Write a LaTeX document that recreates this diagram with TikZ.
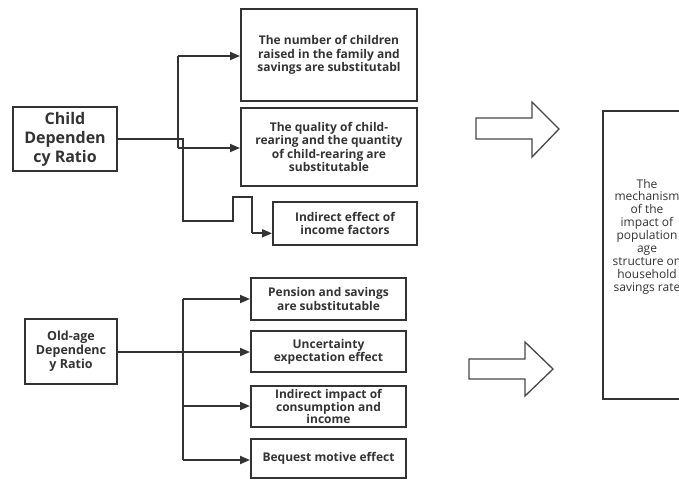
\documentclass[tikz,border=0pt]{standalone}
\usepackage{fontspec}
\setmainfont{Open Sans}
\usetikzlibrary{arrows.meta}
\definecolor{ink}{HTML}{333333}
\begin{document}
\begin{tikzpicture}[x=1pt,y=-1pt,
  box/.style={draw=ink,line width=2pt,inner sep=0pt,align=center,text=ink,font=\bfseries\fontsize{12}{13.2}\selectfont},
  conn/.style={draw=ink,line width=1.8pt,-{Triangle[length=10pt,width=8pt]}},
  plain/.style={draw=ink,line width=1.8pt},
  blockarrow/.style={draw=ink!90,line width=1.3pt,fill=white,line join=miter}]
\useasboundingbox (0,0) rectangle (679,480);
\clip (0,0) rectangle (679,480);
% left boxes
\node[box,minimum width=104pt,minimum height=64pt,font=\bfseries\fontsize{16}{19}\selectfont] (child) at (65,139) {Child\\Dependen\\cy Ratio};
\node[box,minimum width=92pt,minimum height=65pt,font=\bfseries\fontsize{12.5}{14}\selectfont] (old) at (71,351.5) {Old-age\\Dependenc\\y Ratio};
% right boxes (child)
\node[box,minimum width=176pt,minimum height=92pt] (b1) at (329,55) {The number of children\\raised in the family and\\savings are substitutabl};
\node[box,minimum width=176pt,minimum height=78pt] (b2) at (329,147) {The quality of child-\\rearing and the quantity\\of child-rearing are\\substitutable};
\node[box,minimum width=144pt,minimum height=43pt] (b3) at (345,223.5) {Indirect effect of\\income factors};
% right boxes (old)
\node[box,minimum width=155pt,minimum height=42pt] (o1) at (328.5,299) {Pension and savings\\are substitutable};
\node[box,minimum width=155pt,minimum height=41pt] (o2) at (328.5,351.5) {Uncertainty\\expectation effect};
\node[box,minimum width=155pt,minimum height=41pt,font=\bfseries\fontsize{12}{12.6}\selectfont] (o3) at (328.5,406.5) {Indirect impact of\\consumption and\\income};
\node[box,minimum width=155pt,minimum height=39pt] (o4) at (328.5,458.5) {Bequest motive effect};
% big box
\node[draw=ink,line width=1.6pt,minimum width=88pt,minimum height=288pt,inner sep=0pt] (big) at (647,255) {};
\node[align=center,text=ink,font=\fontsize{12}{12.9}\selectfont,inner sep=0pt] (bigtext) at (647,236.5) {The\\mechanism\\of the\\impact of\\population\\age\\structure on\\household\\savings rate};
% child connectors
\coordinate (cj) at (183,139);
\coordinate (cv) at (178,56);
\coordinate (cw) at (178,148);
\draw[plain] (child.east |- cj) -- (cj) -- (183,221) -- (232.7,221) -- (232.7,196.7) -- (251.7,196.7) -- (251.7,233.3);
\draw[conn] (251.7,233.3) -- (b3.west |- 0,233.3);
\draw[conn] (cv) -- (b1.west |- cv);
\draw[plain] (cv) -- (cw);
\draw[conn] (cw) -- (b2.west |- cw);
% old connectors
\coordinate (ot) at (183,299);
\coordinate (ob) at (183,460);
\draw[plain] (ot) -- (ob);
\draw[conn] (old.east |- 0,352) -- (o2.west |- 0,352);
\draw[conn] (ot) -- (o1.west |- ot);
\draw[conn] (183,406) -- (o3.west |- 0,406);
\draw[conn] (ob) -- (o4.west |- ob);
% block arrows
\draw[blockarrow] (476,118) -- (532,118) -- (532,102) -- (559,129) -- (532,157) -- (532,139) -- (476,139) -- cycle;
\draw[blockarrow] (469,359) -- (525,359) -- (525,342) -- (553,369) -- (525,396) -- (525,379) -- (469,379) -- cycle;
\end{tikzpicture}
\end{document}
